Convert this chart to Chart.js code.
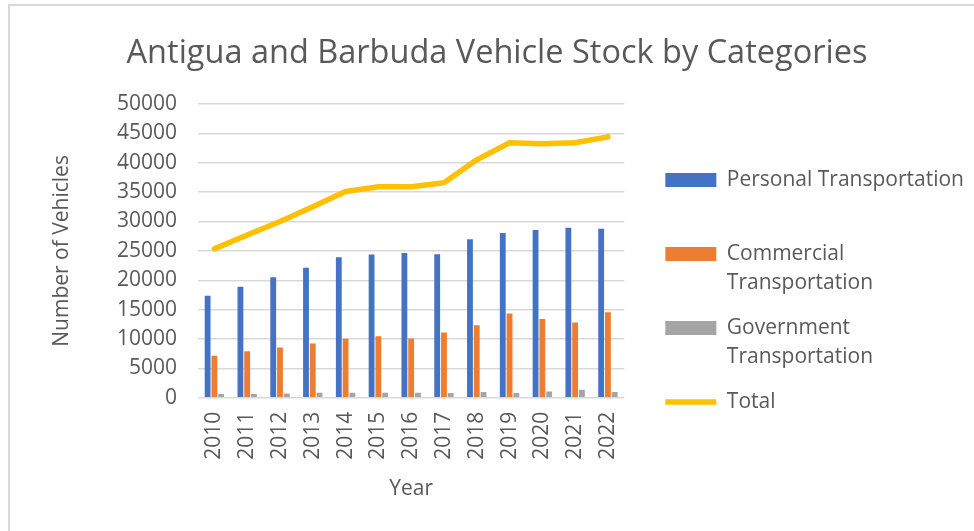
<!DOCTYPE html>
<html>
<head>
<meta charset="utf-8">
<script src="https://cdn.jsdelivr.net/npm/chart.js@4/dist/chart.umd.min.js"></script>
<style>
  html, body { margin: 0; padding: 0; background: #fff; overflow: hidden; }
  #frame { position: absolute; left: 8px; top: 4px; width: 990px; height: 560px; border-left: 2px solid #d9d9d9; border-top: 2px solid #d9d9d9; }
  #chart1 { position: absolute; left: 0; top: 0; }
</style>
</head>
<body>
<div id="frame"></div>
<canvas id="chart1" width="974" height="531"></canvas>
<script>
const years = ['2010', '2011', '2012', '2013', '2014', '2015', '2016', '2017', '2018', '2019', '2020', '2021', '2022']
const personal = [17350, 18900, 20500, 22150, 23900, 24370, 24650, 24430, 27000, 28030, 28540, 28940, 28770]
const commercial = [7140, 7930, 8560, 9250, 10050, 10450, 10100, 11130, 12330, 14330, 13410, 12790, 14550]
const government = [630, 630, 740, 850, 850, 850, 850, 800, 970, 800, 1080, 1370, 970]
const total = [25340, 27700, 30000, 32500, 35100, 35900, 35900, 36600, 40500, 43400, 43250, 43400, 44400]

const seriesNames = ['Personal Transportation', 'Commercial Transportation', 'Government Transportation', 'Total']
const legendText = [['Personal Transportation', ''], ['Commercial', 'Transportation'], ['Government', 'Transportation'], ['Total']]

const colors = {
  blue: '#4472c4',
  orange: '#ed7d31',
  gray: '#a5a5a5',
  gold: '#ffc000',
  text: '#595959',
  grid: '#d9d9d9'
}

Chart.defaults.font.family = "'Open Sans', sans-serif"
Chart.defaults.color = colors.text

const barSet = (label, values, color) => ({
  type: 'bar',
  label,
  data: values,
  backgroundColor: color,
  borderWidth: 0,
  categoryPercentage: 0.62,
  barPercentage: 0.86,
  order: 1
})

const data = {
  labels: years,
  datasets: [
    barSet(seriesNames[0], personal, colors.blue),
    barSet(seriesNames[1], commercial, colors.orange),
    barSet(seriesNames[2], government, colors.gray),
    {
      type: 'line',
      label: seriesNames[3],
      data: total,
      borderColor: colors.gold,
      backgroundColor: colors.gold,
      borderWidth: 5.5,
      borderCapStyle: 'round',
      borderJoinStyle: 'round',
      pointRadius: 0,
      tension: 0,
      order: 0
    }
  ]
}

const options = {
  responsive: false,
  animation: false,
  layout: {
    padding: { top: 8, left: 20, bottom: 25, right: 0 }
  },
  plugins: {
    title: {
      display: true,
      text: 'Antigua and Barbuda Vehicle Stock by Categories',
      font: { size: 32.5, weight: 'normal' },
      color: colors.text,
      padding: { top: 26, bottom: 31 }
    },
    legend: {
      position: 'right',
      maxWidth: 400,
      title: {
        display: true,
        text: '',
        font: { size: 10, lineHeight: 1 },
        padding: { top: 0, bottom: 66 }
      },
      labels: {
        usePointStyle: true,
        pointStyleWidth: 51,
        boxHeight: 14,
        padding: 16,
        color: colors.text,
        font: { size: 21, lineHeight: 1.38 },
        generateLabels: chart => {
          const items = Chart.defaults.plugins.legend.labels.generateLabels(chart)
          return items
            .sort((a, b) => a.datasetIndex - b.datasetIndex)
            .map(item => {
              const isLine = item.datasetIndex === 3
              return {
                ...item,
                text: legendText[item.datasetIndex],
                pointStyle: isLine ? 'line' : 'rect',
                lineWidth: isLine ? 5.5 : 0,
                strokeStyle: item.fillStyle
              }
            })
        }
      }
    },
    tooltip: { enabled: false }
  },
  scales: {
    x: {
      grid: { display: false, drawTicks: false },
      border: { display: false },
      ticks: { minRotation: 90, maxRotation: 90, padding: 14, font: { size: 21 } },
      title: { display: true, text: 'Year', font: { size: 21 }, padding: { top: 3, bottom: 4 } }
    },
    y: {
      min: 0,
      max: 50000,
      ticks: { stepSize: 5000, padding: 21, font: { size: 21 }, callback: value => String(value) },
      grid: { color: colors.grid, lineWidth: 1.5, drawTicks: false },
      border: { display: false },
      title: { display: true, text: 'Number of Vehicles', font: { size: 21 }, padding: { top: 29, bottom: 8 } },
      afterFit: scale => { scale.width = 178 }
    },
    gap: {
      position: 'right',
      display: true,
      grid: { display: false, drawTicks: false },
      border: { display: false },
      ticks: { display: false },
      afterFit: scale => { scale.width = 25 }
    }
  }
}

new Chart('chart1', {
  data,
  options
})
</script>
</body>
</html>
